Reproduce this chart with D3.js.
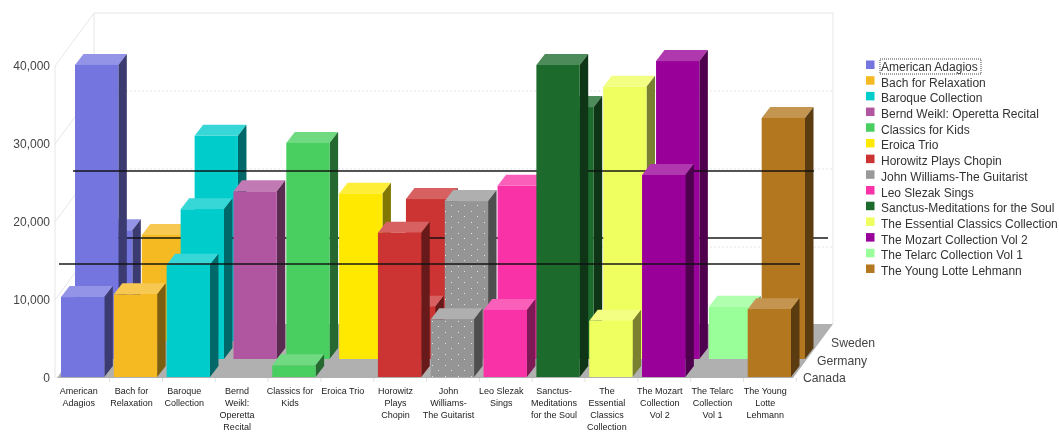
<!DOCTYPE html>
<html><head><meta charset="utf-8">
<script src="https://cdn.jsdelivr.net/npm/d3@7"></script>
<style>
html,body{margin:0;padding:0;background:#fff;overflow:hidden}
svg{display:block;filter:blur(0.75px);font-family:"Liberation Sans",Arial,sans-serif}
</style></head><body><div id="chart"></div>
<script>
const categories=["American Adagios","Bach for Relaxation","Baroque Collection","Bernd Weikl: Operetta Recital","Classics for Kids","Eroica Trio","Horowitz Plays Chopin","John Williams-The Guitarist","Leo Slezak Sings","Sanctus-Meditations for the Soul","The Essential Classics Collection","The Mozart Collection Vol 2","The Telarc Collection Vol 1","The Young Lotte Lehmann"];
const tickLines=[["American","Adagios"],["Bach for","Relaxation"],["Baroque","Collection"],["Bernd","Weikl:","Operetta","Recital"],["Classics for","Kids"],["Eroica Trio"],["Horowitz","Plays","Chopin"],["John","Williams-","The Guitarist"],["Leo Slezak","Sings"],["Sanctus-","Meditations","for the Soul"],["The","Essential","Classics","Collection"],["The Mozart","Collection","Vol 2"],["The Telarc","Collection","Vol 1"],["The Young","Lotte","Lehmann"]];
const colors=["#7575e0","#f5b921","#00cccc","#b0559f","#48cf60","#ffe900","#cc3333","#999999","#f932a7","#1c6a2c","#eeff5f","#990099","#99ff99","#b2771f"];
const canada=[10250,10600,14400,null,1500,null,18500,7400,8600,40000,7200,25900,null,8700];
const germany=[37700,null,19200,21500,27700,21200,6700,20250,22200,32300,34900,38200,6700,30900];
const sweden=[14200,13600,26300,null,null,null,18200,null,null,null,null,null,null,null];
const targets={Canada:14500,Germany:24100,Sweden:13200};
const yTicks=[0,10000,20000,30000,40000];
const rowNames=["Sweden","Germany","Canada"];
const rowValues={Sweden:sweden,Germany:germany,Canada:canada};

const W=1059,H=432;
const depth={Canada:0,Germany:1,Sweden:2};
const rowDx=14,rowDy=-18,barDx=8.5,barDy=-11;
const x=d3.scaleBand().domain(categories).range([61,791]).paddingInner(0.18).paddingOuter(0);
const y=d3.scaleLinear().domain([0,40000]).range([377,65]);
const wallDx=39,wallDy=-53;
const svg=d3.select("#chart").append("svg").attr("width",W).attr("height",H);
const defs=svg.append("defs");
const pat=defs.append("pattern").attr("id","dots").attr("width",13).attr("height",11).attr("patternUnits","userSpaceOnUse");
pat.append("rect").attr("width",13).attr("height",11).attr("fill","#959595");
pat.append("rect").attr("x",3).attr("y",2).attr("width",1).attr("height",1).attr("fill","#e8e8d8");
pat.append("rect").attr("x",9).attr("y",7).attr("width",1).attr("height",1).attr("fill","#e8e8d8");

const x0=55,x1=x0+wallDx,xr=793,xrb=xr+wallDx+1;
const g=svg.append("g");
const grid="#e6e6ea";
g.append("path").attr("d",`M${x0},${y(0)+1}V${y(40000)+1}L${x1},${y(40000)+wallDy+1}H${xrb}V${y(0)+wallDy}`).attr("fill","none").attr("stroke",grid);
g.append("line").attr("x1",x1).attr("x2",x1).attr("y1",y(40000)+wallDy+1).attr("y2",y(0)+wallDy).attr("stroke",grid);
yTicks.slice(1,4).forEach(t=>{
  g.append("line").attr("x1",x0).attr("x2",x1).attr("y1",y(t)+1).attr("y2",y(t)+1+wallDy).attr("stroke",grid);
  g.append("line").attr("x1",x1).attr("x2",xrb).attr("y1",y(t)+1+wallDy).attr("y2",y(t)+1+wallDy).attr("stroke",grid).attr("stroke-dasharray","2,2");
});
g.append("path").attr("d",`M${x0+2},${y(0)+1}L${x1},${y(0)+wallDy}H${xrb}L${xr},${y(0)+1}Z`).attr("fill","#b0b0b0");

function mix(c,t,k){return d3.interpolateRgb(c,t)(k);}
function drawBar(group,cat,val,i,dx,dy){
  const l=x(cat)+dx,r=l+x.bandwidth(),b=y(0)+dy,t=y(val)+dy;
  const c=colors[i];
  group.append("path").attr("d",`M${l},${t}L${l+barDx},${t+barDy}H${r+barDx}L${r},${t}Z`).attr("fill",mix(c,"#fff",0.22));
  group.append("path").attr("d",`M${r},${t}L${r+barDx},${t+barDy}V${b+barDy}L${r},${b}Z`).attr("fill",d3.rgb(c).darker(1.9).formatRgb());
  group.append("rect").attr("x",l).attr("y",t).attr("width",r-l).attr("height",b-t).attr("fill",i===7?"url(#dots)":c);
}
rowNames.forEach(name=>{
  const k=depth[name],dx=k*rowDx,dy=k*rowDy;
  const rg=g.append("g").attr("class","row-"+name);
  rowValues[name].forEach((v,i)=>{ if(v!=null) drawBar(rg,categories[i],v,i,dx,dy); });
  rg.append("line").attr("x1",59+dx).attr("x2",800+dx).attr("y1",y(targets[name])+dy).attr("y2",y(targets[name])+dy)
    .attr("stroke","#111").attr("stroke-width",2).attr("stroke-opacity",0.72);
});

const yAxis=d3.axisLeft(y).tickValues(yTicks).tickFormat(d3.format(",")).tickSize(0).tickPadding(4);
const ya=svg.append("g").attr("transform","translate(54,1)").call(yAxis);
ya.select(".domain").remove();
ya.selectAll("text").attr("font-size",12).attr("font-family","inherit").attr("fill","#444");

const xAxis=d3.axisBottom(x).tickSize(4).tickFormat("");
const xa=svg.append("g").attr("transform","translate(-4,378)").call(xAxis);
xa.select(".domain").remove();
xa.selectAll("line").attr("stroke","#e2e2e2").attr("transform","translate(31,0)");
xa.selectAll(".tick").each(function(d,i){
  const t=d3.select(this).append("text").attr("text-anchor","middle").attr("font-size",9).attr("fill","#222").attr("font-family","inherit");
  tickLines[i].forEach((s,j)=>t.append("tspan").attr("x",0).attr("y",16+j*11.9).text(s));
});

const depthLabels=[{n:"Canada",x:803,y:382},{n:"Germany",x:817,y:365},{n:"Sweden",x:831,y:347}];
svg.append("g").selectAll("text").data(depthLabels).join("text").attr("x",d=>d.x).attr("y",d=>d.y).text(d=>d.n)
  .attr("font-size",12.2).attr("fill","#444");

const leg=svg.append("g").attr("transform","translate(866,60.5)");
const rows=leg.selectAll("g").data(categories).join("g").attr("transform",(d,i)=>`translate(0,${i*15.69})`);
rows.append("rect").attr("width",8.5).attr("height",8.5).attr("fill",(d,i)=>colors[i]);
rows.append("text").attr("x",15).attr("y",10.5).text(d=>d).attr("font-size",12).attr("fill","#333");
leg.append("rect").attr("x",14).attr("y",-1.5).attr("width",101).attr("height",15).attr("fill","none").attr("stroke","#444").attr("stroke-dasharray","1,1");
</script></body></html>
